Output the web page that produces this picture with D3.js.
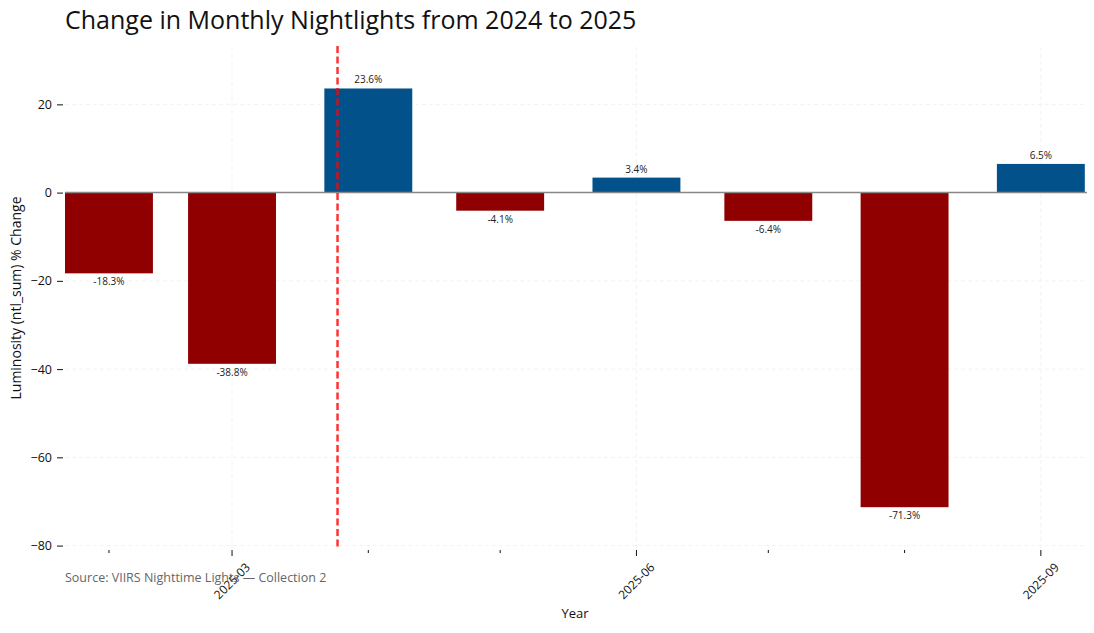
<!DOCTYPE html>
<html><head><meta charset="utf-8">
<script src="https://cdn.jsdelivr.net/npm/d3@7"></script>
<style>
body{margin:0;background:#fff;}
text{font-family:"Open Sans",sans-serif;}
</style></head>
<body><svg id="c" width="1094" height="633"></svg>
<script>
const months = ["2025-02-01","2025-03-01","2025-04-01","2025-05-01","2025-06-01","2025-07-01","2025-08-01","2025-09-01"];
const changes = [-18.3,-38.8,23.6,-4.1,3.4,-6.4,-71.3,6.5];
const yTicks = [20,0,-20,-40,-60,-80];
const majorTicks = ["2025-03-01","2025-06-01","2025-09-01"];
const eventDate = "2025-03-25";
const title = "Change in Monthly Nightlights from 2024 to 2025";
const source = "Source: VIIRS Nighttime Lights — Collection 2";

const parse = d3.utcParse("%Y-%m-%d");
const svg = d3.select("#c");
const L=65,R=1087,T=47,B=550;
const x = d3.scaleUtc().domain([parse("2025-01-22"), d3.utcHour.offset(parse("2025-09-11"),12)]).range([L,R]);
const y = d3.scaleLinear().domain([-81,33]).range([B,T]);
const day = 86400000;
const barW = x(new Date(parse("2025-01-22").getTime()+20*day)) - x(parse("2025-01-22"));

// grid
svg.append("g").selectAll("line").data(yTicks).join("line")
  .attr("x1",L).attr("x2",R).attr("y1",d=>y(d)).attr("y2",d=>y(d))
  .attr("stroke","#f0f0f0").attr("stroke-width",0.8).attr("stroke-dasharray","4,3");
svg.append("g").selectAll("line").data(majorTicks).join("line")
  .attr("x1",d=>x(parse(d))).attr("x2",d=>x(parse(d))).attr("y1",T).attr("y2",B)
  .attr("stroke","#f0f0f0").attr("stroke-width",0.8).attr("stroke-dasharray","4,3");

// bars
svg.append("g").selectAll("rect").data(months.map((m,i)=>({d:parse(m),v:changes[i]}))).join("rect")
  .attr("x",d=>x(d.d)-barW/2).attr("width",barW)
  .attr("y",d=>y(Math.max(0,d.v))).attr("height",d=>Math.abs(y(d.v)-y(0)))
  .attr("fill",d=>d.v<0?"#900000":"#02518a");

// zero line
svg.append("line").attr("x1",L).attr("x2",R).attr("y1",y(0)).attr("y2",y(0))
  .attr("stroke","#888").attr("stroke-width",1.5);

// labels
svg.append("g").selectAll("text").data(months.map((m,i)=>({d:parse(m),v:changes[i]}))).join("text")
  .attr("x",d=>x(d.d)).attr("y",d=>d.v>=0? y(d.v)-5 : y(d.v)+12)
  .attr("text-anchor","middle").attr("font-size",10).attr("fill","#222")
  .text(d=>d.v.toFixed(1)+"%");

// event line
svg.append("line").attr("x1",x(parse(eventDate))).attr("x2",x(parse(eventDate)))
  .attr("y1",T-1).attr("y2",B).attr("stroke","red").attr("stroke-opacity",0.8)
  .attr("stroke-width",2.5).attr("stroke-dasharray","7,3.5");

// y axis
const ya = svg.append("g").attr("transform",`translate(${L-2},0)`)
  .call(d3.axisLeft(y).tickValues(yTicks).tickSize(6).tickPadding(5).tickFormat(d=>d<0?"\u2212"+Math.abs(d):d));
ya.select(".domain").remove();
ya.selectAll("text").attr("font-size",12.5).attr("fill","#111").style("font-family","'Open Sans',sans-serif");
ya.selectAll("line").attr("stroke","#111");

// x axis ticks
const allMonths = months.map(parse);
const xg = svg.append("g").attr("transform",`translate(0,${B})`);
xg.selectAll("line").data(allMonths).join("line")
  .attr("x1",d=>x(d)).attr("x2",d=>x(d)).attr("y1",0)
  .attr("y2",d=>majorTicks.includes(d3.utcFormat("%Y-%m-%d")(d))?6:3)
  .attr("stroke","#111");
xg.selectAll("text").data(majorTicks.map(parse)).join("text")
  .attr("transform",d=>`translate(${x(d)},31) rotate(-45)`)
  .attr("text-anchor","middle").attr("dy","0.35em").attr("font-size",12).attr("fill","#111")
  .text(d3.utcFormat("%Y-%m"));

// source
svg.append("text").attr("x",L).attr("y",582).attr("font-size",12.5).attr("fill","#666").text(source);

// axis titles
svg.append("text").attr("x",575).attr("y",618).attr("text-anchor","middle").attr("font-size",13).attr("fill","#111").text("Year");
svg.append("text").attr("transform",`translate(21,298) rotate(-90)`).attr("text-anchor","middle")
  .attr("font-size",14).attr("fill","#111").text("Luminosity (ntl_sum) % Change");

// title
svg.append("text").attr("x",L).attr("y",29).attr("font-size",25).attr("fill","#111").text(title);
</script></body></html>
